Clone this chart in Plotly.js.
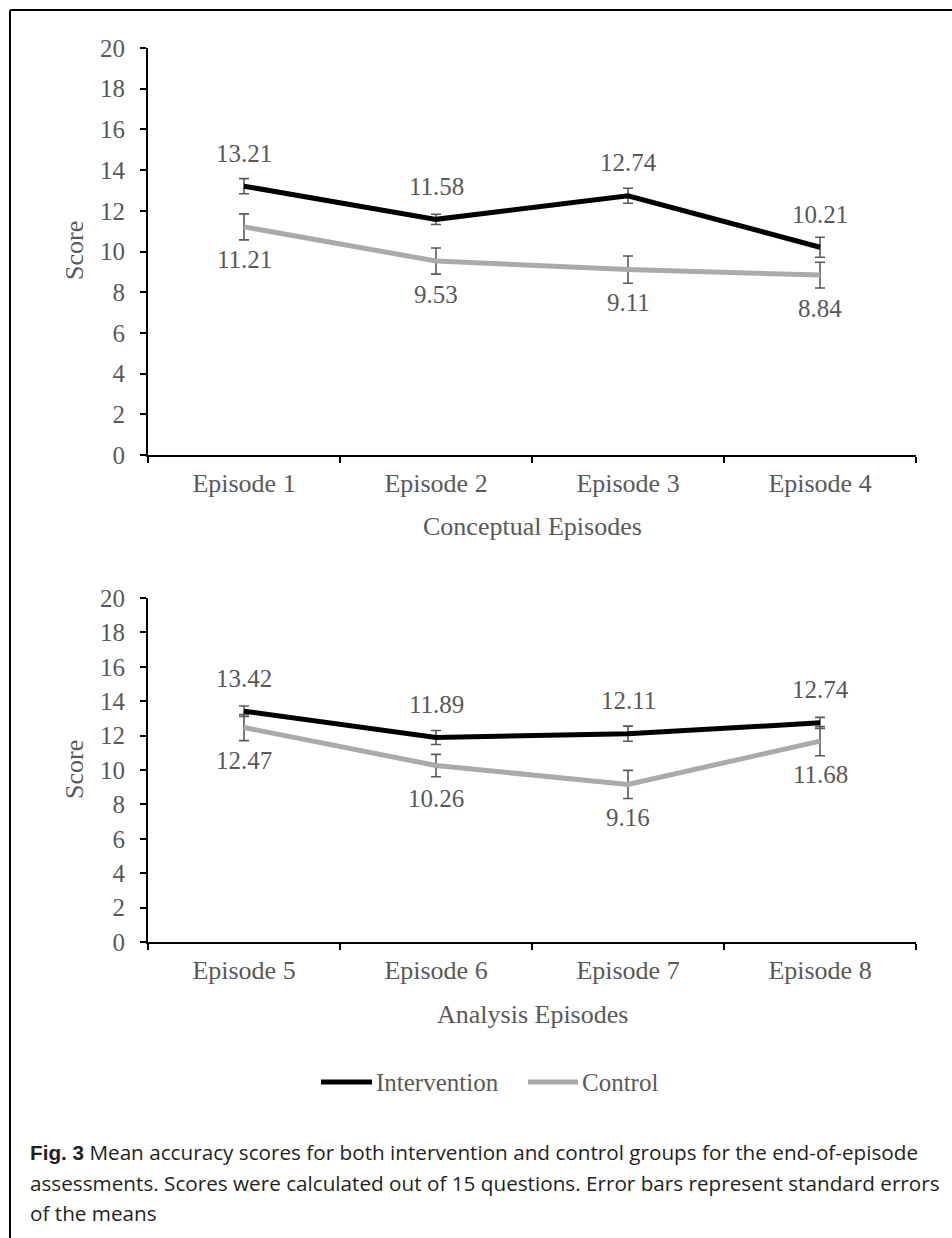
<!DOCTYPE html>
<html>
<head>
<meta charset="utf-8">
<script src="https://cdn.plot.ly/plotly-3.0.1.min.js"></script>
<style>
  html, body { margin: 0; padding: 0; background: #ffffff; }
  #chart { width: 952px; height: 1238px; }
</style>
</head>
<body>
<div id="chart"></div>
<script>
// Episode names for the two panels
const conceptualEpisodes = ['Episode 1', 'Episode 2', 'Episode 3', 'Episode 4'];
const analysisEpisodes = ['Episode 5', 'Episode 6', 'Episode 7', 'Episode 8'];

// Mean scores (out of 15 questions)
const interventionConceptual = [13.21, 11.58, 12.74, 10.21];
const controlConceptual = [11.21, 9.53, 9.11, 8.84];
const interventionAnalysis = [13.42, 11.89, 12.11, 12.74];
const controlAnalysis = [12.47, 10.26, 9.16, 11.68];

// Standard errors of the means
const interventionConceptualSE = [0.37, 0.25, 0.37, 0.49];
const controlConceptualSE = [0.64, 0.64, 0.67, 0.63];
const interventionAnalysisSE = [0.3, 0.41, 0.44, 0.32];
const controlAnalysisSE = [0.76, 0.65, 0.82, 0.85];

// Axis tick values
const scoreTicks = [0, 2, 4, 6, 8, 10, 12, 14, 16, 18, 20];

const W = 952, H = 1238;
const px = x => x / W;
const py = y => 1 - y / H;

const SERIF = 'Liberation Serif, Times New Roman, serif';
const GREY_TEXT = '#595959';
const INTERVENTION_COLOR = '#000000';
const CONTROL_COLOR = '#aca9a9';

function seriesTrace(x, y, se, color, xa, ya, name) {
  return {
    type: 'scatter', mode: 'lines', name: name,
    x: x, y: y, xaxis: xa, yaxis: ya,
    line: { color: color, width: 5 },
    error_y: { type: 'data', array: se, visible: true, color: '#595959', thickness: 1.6, width: 5 },
    showlegend: false, hoverinfo: 'x+y'
  };
}

const data = [
  seriesTrace(conceptualEpisodes, controlConceptual, controlConceptualSE, CONTROL_COLOR, 'x', 'y', 'Control'),
  seriesTrace(conceptualEpisodes, interventionConceptual, interventionConceptualSE, INTERVENTION_COLOR, 'x', 'y', 'Intervention'),
  seriesTrace(analysisEpisodes, controlAnalysis, controlAnalysisSE, CONTROL_COLOR, 'x2', 'y2', 'Control'),
  seriesTrace(analysisEpisodes, interventionAnalysis, interventionAnalysisSE, INTERVENTION_COLOR, 'x2', 'y2', 'Intervention')
];

// Value labels: intervention above its point, control below
const annotations = [];
function valueLabels(cats, vals, xref, yref, shift) {
  cats.forEach((c, i) => {
    annotations.push({
      x: c, y: vals[i], xref: xref, yref: yref,
      text: vals[i].toFixed(2), showarrow: false, yshift: shift,
      font: { family: SERIF, size: 25, color: GREY_TEXT }
    });
  });
}
valueLabels(conceptualEpisodes, interventionConceptual, 'x', 'y', 33);
valueLabels(conceptualEpisodes, controlConceptual, 'x', 'y', -33);
valueLabels(analysisEpisodes, interventionAnalysis, 'x2', 'y2', 33);
valueLabels(analysisEpisodes, controlAnalysis, 'x2', 'y2', -33);

// Axis titles
function paperText(text, x, y, opts) {
  annotations.push(Object.assign({
    text: text, x: px(x), y: py(y), xref: 'paper', yref: 'paper',
    showarrow: false, xanchor: 'center', yanchor: 'middle',
    font: { family: SERIF, size: 26, color: GREY_TEXT }
  }, opts || {}));
}
paperText('Score', 74, 251, { textangle: -90 });
paperText('Conceptual Episodes', 532, 527);
paperText('Score', 74, 770, { textangle: -90 });
paperText('Analysis Episodes', 532, 1014);

// Legend entries
paperText('Intervention', 374, 1082, { xanchor: 'left', font: { family: SERIF, size: 25, color: GREY_TEXT } });
paperText('Control', 580, 1082, { xanchor: 'left', font: { family: SERIF, size: 25, color: GREY_TEXT } });

// Figure caption
const CAPTION_FONT = { family: 'Open Sans, sans-serif', size: 20.7, color: '#231f20' };
paperText('<span style="font-family:Liberation Sans, Arial, sans-serif"><b>Fig. 3</b></span> Mean accuracy scores for both intervention and control groups for the end-of-episode',
  28, 1152, { xanchor: 'left', font: CAPTION_FONT });
paperText('assessments. Scores were calculated out of 15 questions. Error bars represent standard errors',
  28, 1183, { xanchor: 'left', font: CAPTION_FONT });
paperText('of the means', 28, 1213, { xanchor: 'left', font: CAPTION_FONT });

const shapes = [
  // frame around the figure
  { type: 'line', xref: 'paper', yref: 'paper', x0: px(10), x1: px(10), y0: py(10), y1: py(H + 5), line: { color: '#000', width: 2 } },
  { type: 'line', xref: 'paper', yref: 'paper', x0: px(10), x1: px(W + 5), y0: py(10), y1: py(10), line: { color: '#000', width: 2 } },
  // legend samples
  { type: 'line', xref: 'paper', yref: 'paper', x0: px(321), x1: px(372), y0: py(1082), y1: py(1082), line: { color: INTERVENTION_COLOR, width: 5 } },
  { type: 'line', xref: 'paper', yref: 'paper', x0: px(528), x1: px(578), y0: py(1082), y1: py(1082), line: { color: CONTROL_COLOR, width: 5 } }
];

function xAxis(anchor) {
  return {
    domain: [px(148), px(916)], anchor: anchor, type: 'category', range: [-0.5, 3.5],
    showline: true, linecolor: '#000', linewidth: 2, showgrid: false, zeroline: false,
    ticks: 'outside', tickson: 'boundaries', ticklen: 6, tickwidth: 2, tickcolor: '#000',
    ticklabelstandoff: 4,
    tickfont: { family: SERIF, size: 26, color: GREY_TEXT }, fixedrange: true
  };
}
function yAxis(anchor, top, bottom) {
  return {
    domain: [py(bottom), py(top)], anchor: anchor, range: [0, 20],
    tickmode: 'array', tickvals: scoreTicks, ticktext: scoreTicks.map(String),
    showline: true, linecolor: '#000', linewidth: 2, showgrid: false, zeroline: false,
    ticks: 'outside', ticklen: 6, tickwidth: 2, tickcolor: '#000',
    ticklabelstandoff: 10,
    tickfont: { family: SERIF, size: 25, color: GREY_TEXT }, fixedrange: true
  };
}

const layout = {
  width: W, height: H,
  margin: { l: 0, r: 0, t: 0, b: 0, pad: 0 },
  paper_bgcolor: '#ffffff', plot_bgcolor: '#ffffff',
  showlegend: false,
  xaxis: xAxis('y'),
  yaxis: yAxis('x', 48, 455),
  xaxis2: xAxis('y2'),
  yaxis2: yAxis('x2', 598, 942),
  annotations: annotations,
  shapes: shapes
};

Plotly.newPlot('chart', data, layout, { displayModeBar: false, staticPlot: true });
</script>
</body>
</html>
